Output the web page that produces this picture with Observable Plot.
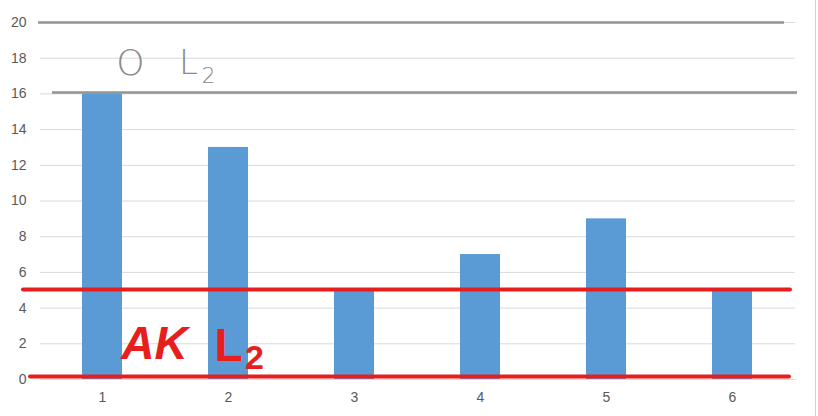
<!DOCTYPE html>
<html><head><meta charset="utf-8">
<script src="https://cdn.jsdelivr.net/npm/d3@7"></script>
<script src="https://cdn.jsdelivr.net/npm/@observablehq/plot@0.6"></script>
<style>
body{margin:0;background:#fff;}
#wrap{position:relative;width:818px;height:416px;overflow:hidden;}
#edge{position:absolute;left:815px;top:0;width:0;height:416px;border-left:1px solid #d0d0d0;}
g[aria-label$="tick label"] text{font-size:14px;fill:#595959;}
</style>
</head><body>
<div id="wrap"><div id="edge"></div></div>
<script>
const categories = ["1","2","3","4","5","6"];
const values = [16, 13, 5, 7, 9, 5];
const yTicks = [0,2,4,6,8,10,12,14,16,18,20];
const grayLines = [20, 16.08];
const redLines = [5.04, 0.17];

const data = categories.map((c,i)=>({cat:c, v:values[i]}));
const hand = "'DejaVu Sans', sans-serif";
const chart = Plot.plot({
  width: 818, height: 416,
  marginLeft: 40, marginRight: 23, marginTop: 22, marginBottom: 37,
  style: {fontFamily: "'Liberation Sans', Arial, sans-serif", fontSize: "14px", color: "#595959"},
  x: {domain: categories, paddingInner: 0.68, paddingOuter: 0.33, label: null, tickSize: 0, tickPadding: 13},
  y: {domain: [0,20], ticks: yTicks, label: null, tickSize: 0, tickPadding: 14},
  marks: [
    Plot.ruleY(yTicks, {stroke: "#d9d9d9", strokeWidth: 1}),
    Plot.barY(data, {x: "cat", y: "v", fill: "#5b9bd5"}),
    Plot.ruleY([grayLines[0]], {stroke: "#939393", strokeWidth: 2.6, insetLeft: -2, insetRight: 11}),
    Plot.ruleY([grayLines[1]], {stroke: "#939393", strokeWidth: 2.6, insetLeft: 12, insetRight: -2}),
    Plot.ruleY([redLines[0]], {stroke: "#e61e1e", strokeWidth: 4, insetLeft: -17, insetRight: 5, strokeLinecap: "round"}),
    Plot.ruleY([redLines[1]], {stroke: "#e61e1e", strokeWidth: 4, insetLeft: -10, insetRight: 6, strokeLinecap: "round"}),
    Plot.text(["O"], {x: ()=>"1", y: ()=>17.7, dx: 28, text: d=>d, fill: "#8a8a8a", fontFamily: hand, fontSize: 36, fontWeight: 200}),
    Plot.text(["L"], {x: ()=>"1", y: ()=>17.75, dx: 86, text: d=>d, fill: "#8a8a8a", fontFamily: hand, fontSize: 34, fontWeight: 200}),
    Plot.text(["2"], {x: ()=>"1", y: ()=>17.0, dx: 106, text: d=>d, fill: "#8a8a8a", fontFamily: hand, fontSize: 22, fontWeight: 200}),
    Plot.text(["AK"], {x: ()=>"1", y: ()=>1.95, dx: 52, text: d=>d, fill: "#e61e1e", fontSize: 46, fontStyle: "italic", fontWeight: "bold"}),
    Plot.text(["L"], {x: ()=>"1", y: ()=>1.85, dx: 126, text: d=>d, fill: "#e61e1e", fontSize: 46, fontWeight: "bold"}),
    Plot.text(["2"], {x: ()=>"1", y: ()=>1.2, dx: 152, text: d=>d, fill: "#e61e1e", fontSize: 34, fontWeight: "bold"})
  ]
});
document.getElementById("wrap").appendChild(chart);
</script>
</body></html>
